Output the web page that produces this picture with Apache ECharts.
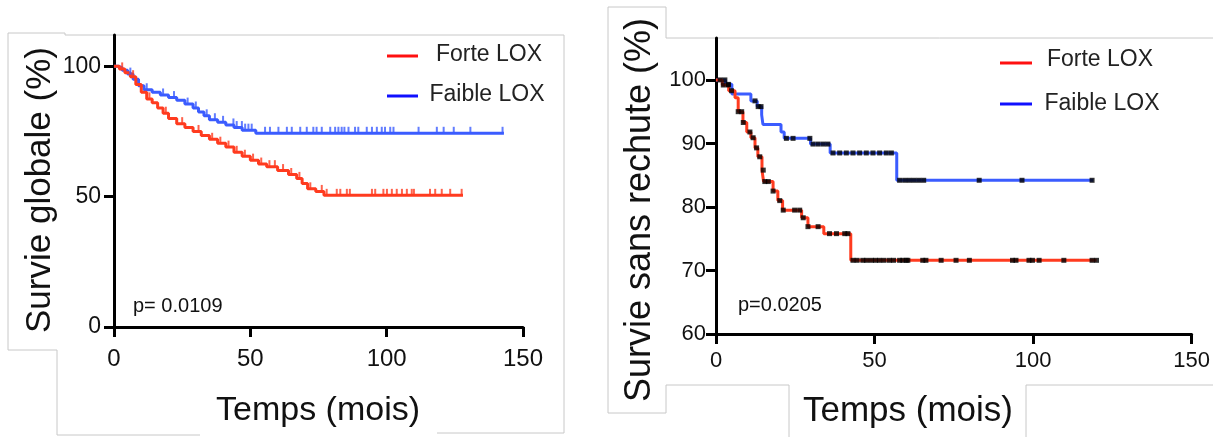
<!DOCTYPE html>
<html>
<head>
<meta charset="utf-8">
<script src="https://cdn.jsdelivr.net/npm/echarts@6.0.0/dist/echarts.min.js"></script>
<style>
html,body{margin:0;padding:0;background:#fff;}
#c{width:1213px;height:437px;}
</style>
</head>
<body>
<div id="c"></div>
<script>
// ---------- DATA ----------
var seriesNames = ['Forte LOX', 'Faible LOX'];
var xTicks = [0, 50, 100, 150];
var osYTicks = [0, 50, 100];
var dfsYTicks = [60, 70, 80, 90, 100];

// Left panel: Survie globale (%)
var osHighT = [0,2,4,6,8,10,12,14,16,18,20,23,26,29,32,35,38,41,44,47,50,53,56,60,64,67,69,71,74,77,128];
var osHighS = [100,99,97.5,96,93,90,87.5,86,84,82,80,78,76.5,75,73.5,72,70.5,69,67,65.5,64,62.5,61.5,60,58.5,57,55,53,52,50.5,50.5];
var osHighC = [3,7,13,19,25,31,36,39,42,45,48,51,54,57,59,62,65,68,72,76.2,78,81.7,83,85.4,86.5,94.6,95.8,98.8,100.1,101.9,103.7,105.6,107.4,109.2,110,115.9,117.8,120.2,123.3,127.5];

var osLowT = [0,1.5,3,5,7,9,11,14,17,20,23,26,29,31,33,35,38,41,44,47,52,143];
var osLowS = [100,99.5,98.5,97,95,92.5,91,90,89,88,87,85.5,84,82.5,81,79.5,78.5,77.5,76.5,75.5,74.3,74.3];
var osLowC = [6,12,18,22,27,30,34,37,40,43.8,45,46.9,48.1,49.3,50.5,55.4,57.2,60.3,63.4,65.2,68.3,70.7,73.1,74.3,76.2,79.3,81.1,82.3,83.5,84.5,86,88.4,89.6,92.7,94.6,96.4,98.2,99.4,101.3,102.5,111.7,118.4,120.9,124.6,130.7,142.5];

// Right panel: Survie sans rechute (%)
var dfsHighT = [0,2,4,6,7,8.5,9.7,11,12.3,13.2,14.5,15,18,19.5,21,27,29,34,42.5,120];
var dfsHighS = [100,99.2,98.3,97.2,95,93.3,91.8,90.9,89.3,87.9,85.8,84,82.5,81,79.5,78.3,76.9,75.8,71.6,71.6];
var dfsHighC = [2.3,3.9,4.9,7,8.1,8.6,10.7,11.7,12.8,13.8,14.9,15.4,16.5,18,20.1,21.2,24.8,26.4,27.5,29,32.2,35.8,38,40.6,41.6,43.2,44.5,46.3,47.5,49,50.3,51.6,53,54.7,56,57.9,58.9,60,60.5,65.2,66.2,71,75.7,79.9,93.5,94.6,98.7,99.8,101.9,109.7,118.6,120];

var dfsLowT = [0,3,5,11,13,14.4,14.8,20.5,21.5,29.8,36,57,119];
var dfsLowS = [100,99.3,97.8,96.7,95.8,94.5,93,91.8,90.8,89.9,88.5,84.2,84.2];
var dfsLowC = [1.3,2.8,3.9,12.3,13.3,14.2,22.2,24.3,29.6,30.6,32.2,33.8,35.3,36.9,39,41.1,43.2,45.3,47.4,49.5,51.6,53.7,55.3,57.9,59.5,61,62.5,64,65.5,83,96.5,118.6];

// ---------- HELPERS ----------
function zip(T, S) { return T.map(function (t, i) { return [t, S[i]]; }); }
function stepAt(T, S, t) {
  var v = S[0];
  for (var i = 0; i < T.length; i++) { if (T[i] <= t) v = S[i]; else break; }
  return v;
}
function censor(T, S, C) { return C.map(function (t) { return [t, stepAt(T, S, t)]; }); }

var RED = '#ff3b1f', BLUE = '#3b5cff';
var narrow = "'Liberation Sans Narrow', 'Liberation Sans', Arial, sans-serif";
var sans = "'Liberation Sans', Arial, Helvetica, sans-serif";

function axisCommon(font, size, margin) {
  return {
    axisLine: { show: true, onZero: false, lineStyle: { color: '#000', width: 3 } },
    axisTick: { show: true, length: 10, lineStyle: { color: '#000', width: 3 } },
    axisLabel: { fontFamily: font, fontSize: size, color: '#111', margin: margin },
    splitLine: { show: false }
  };
}
function mk(base, extra) { return Object.assign({}, base, extra); }

var chart = echarts.init(document.getElementById('c'), null, { renderer: 'canvas' });

var xL = axisCommon(narrow, 24, 20), yL = axisCommon(narrow, 23, 13);
var xR = axisCommon(sans, 22, 16), yR = axisCommon(sans, 22, 10);

var option = {
  animation: false,
  backgroundColor: '#fff',
  grid: [
    { left: 114, top: 35, width: 409, height: 292, containLabel: false },
    { left: 716, top: 38, width: 477, height: 296, containLabel: false }
  ],
  xAxis: [
    Object.assign(xL, { type: 'value', gridIndex: 0, min: 0, max: 150, interval: 50,
      axisTick: Object.assign(xL.axisTick, { customValues: xTicks }),
      axisLabel: Object.assign(xL.axisLabel, { customValues: xTicks }) }),
    Object.assign(xR, { type: 'value', gridIndex: 1, min: 0, max: 150, interval: 50,
      axisTick: Object.assign(xR.axisTick, { customValues: xTicks }),
      axisLabel: Object.assign(xR.axisLabel, { customValues: xTicks }) })
  ],
  yAxis: [
    Object.assign(yL, { type: 'value', gridIndex: 0, min: 0, max: 112, interval: 50,
      axisTick: Object.assign(yL.axisTick, { customValues: osYTicks }),
      axisLabel: Object.assign(yL.axisLabel, { customValues: osYTicks }) }),
    Object.assign(yR, { type: 'value', gridIndex: 1, min: 60, max: 106.6, interval: 10,
      axisTick: Object.assign(yR.axisTick, { customValues: dfsYTicks }),
      axisLabel: Object.assign(yR.axisLabel, { customValues: dfsYTicks }) })
  ],
  series: [
    { name: seriesNames[1], type: 'line', step: 'end', xAxisIndex: 0, yAxisIndex: 0, showSymbol: false,
      data: zip(osLowT, osLowS), lineStyle: { color: BLUE, width: 3 }, itemStyle: { color: BLUE }, z: 3 },
    { name: seriesNames[0], type: 'line', step: 'end', xAxisIndex: 0, yAxisIndex: 0, showSymbol: false,
      data: zip(osHighT, osHighS), lineStyle: { color: RED, width: 3 }, itemStyle: { color: RED }, z: 3 },
    { name: seriesNames[1], type: 'scatter', xAxisIndex: 0, yAxisIndex: 0, symbol: 'rect', symbolSize: [2, 7], symbolOffset: [0, -3],
      data: censor(osLowT, osLowS, osLowC), itemStyle: { color: BLUE }, z: 4 },
    { name: seriesNames[0], type: 'scatter', xAxisIndex: 0, yAxisIndex: 0, symbol: 'rect', symbolSize: [2, 7], symbolOffset: [0, -3],
      data: censor(osHighT, osHighS, osHighC), itemStyle: { color: RED }, z: 4 },

    { name: seriesNames[1], type: 'line', step: 'end', xAxisIndex: 1, yAxisIndex: 1, showSymbol: false,
      data: zip(dfsLowT, dfsLowS), lineStyle: { color: BLUE, width: 3 }, itemStyle: { color: BLUE }, z: 3 },
    { name: seriesNames[0], type: 'line', step: 'end', xAxisIndex: 1, yAxisIndex: 1, showSymbol: false,
      data: zip(dfsHighT, dfsHighS), lineStyle: { color: RED, width: 3 }, itemStyle: { color: RED }, z: 3 },
    { name: seriesNames[1], type: 'scatter', xAxisIndex: 1, yAxisIndex: 1, symbol: 'rect', symbolSize: [5, 5],
      data: censor(dfsLowT, dfsLowS, dfsLowC), itemStyle: { color: '#000' }, z: 4 },
    { name: seriesNames[0], type: 'scatter', xAxisIndex: 1, yAxisIndex: 1, symbol: 'rect', symbolSize: [5, 5],
      data: censor(dfsHighT, dfsHighS, dfsHighC), itemStyle: { color: '#000' }, z: 4 }
  ],
  graphic: [
    // frames (light grey crop borders)
    { type: 'polyline', silent: true, z: 0, shape: { points: [[57,435],[57,350],[8,350],[8,33],[65,33],[65,35],[564,35],[564,433],[437,433]] },
      style: { stroke: '#c8c8c8', lineWidth: 1, fill: null } },
    { type: 'polyline', silent: true, z: 0, shape: { points: [[57,435],[200,435]] }, style: { stroke: '#c8c8c8', lineWidth: 1, fill: null } },
    { type: 'polyline', silent: true, z: 0, shape: { points: [[789,437],[789,385],[666,385],[666,413],[608,413],[608,7],[666,7],[666,38],[1213,38]] },
      style: { stroke: '#c8c8c8', lineWidth: 1, fill: null } },
    { type: 'polyline', silent: true, z: 0, shape: { points: [[1026,437],[1026,385],[1213,385]] }, style: { stroke: '#c8c8c8', lineWidth: 1, fill: null } },

    // axis titles
    { type: 'text', x: 40, y: 190, rotation: Math.PI / 2, style: { text: 'Survie globale (%)', font: '35px ' + sans, fill: '#111', textAlign: 'center', textVerticalAlign: 'middle' } },
    { type: 'text', x: 318, y: 411, style: { text: 'Temps (mois)', font: '34px ' + sans, fill: '#111', textAlign: 'center', textVerticalAlign: 'middle' } },
    { type: 'text', x: 640, y: 210, rotation: Math.PI / 2, style: { text: 'Survie sans rechute (%)', font: '36px ' + sans, fill: '#111', textAlign: 'center', textVerticalAlign: 'middle' } },
    { type: 'text', x: 908, y: 411, style: { text: 'Temps (mois)', font: '35px ' + sans, fill: '#111', textAlign: 'center', textVerticalAlign: 'middle' } },

    // legends
    { type: 'line', shape: { x1: 387, y1: 56, x2: 418, y2: 56 }, style: { stroke: '#ff1010', lineWidth: 3 } },
    { type: 'text', x: 489, y: 55, style: { text: seriesNames[0], font: '23px ' + sans, fill: '#222', textAlign: 'center', textVerticalAlign: 'middle' } },
    { type: 'line', shape: { x1: 387, y1: 96, x2: 418, y2: 96 }, style: { stroke: '#1010ff', lineWidth: 3 } },
    { type: 'text', x: 487, y: 95, style: { text: seriesNames[1], font: '23px ' + sans, fill: '#222', textAlign: 'center', textVerticalAlign: 'middle' } },
    { type: 'line', shape: { x1: 1000, y1: 63, x2: 1032, y2: 63 }, style: { stroke: '#ff1010', lineWidth: 3 } },
    { type: 'text', x: 1100, y: 60, style: { text: seriesNames[0], font: '23px ' + sans, fill: '#222', textAlign: 'center', textVerticalAlign: 'middle' } },
    { type: 'line', shape: { x1: 1000, y1: 104, x2: 1032, y2: 104 }, style: { stroke: '#1010ff', lineWidth: 3 } },
    { type: 'text', x: 1102, y: 104, style: { text: seriesNames[1], font: '23px ' + sans, fill: '#222', textAlign: 'center', textVerticalAlign: 'middle' } },

    // p-values
    { type: 'text', x: 133, y: 306, style: { text: 'p= 0.0109', font: '20px ' + sans, fill: '#111', textAlign: 'left', textVerticalAlign: 'middle' } },
    { type: 'text', x: 738, y: 305, style: { text: 'p=0.0205', font: '20px ' + sans, fill: '#111', textAlign: 'left', textVerticalAlign: 'middle' } }
  ]
};
chart.setOption(option);
</script>
</body>
</html>
